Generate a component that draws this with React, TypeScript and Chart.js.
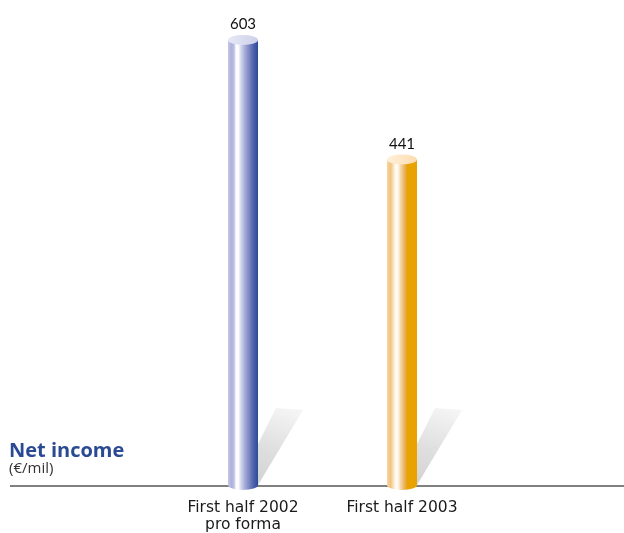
import { useEffect, useRef } from "react";
import { Chart, registerables } from "chart.js";

Chart.register(...registerables);

// Net income, € million
const categories = [["First half 2002", "pro forma"], ["First half 2003"]];
const netIncome = [603, 441];

const bodyStops = [
  [
    [0, "#c3c6e6"],
    [0.12, "#adb2db"],
    [0.2, "#bcc0e3"],
    [0.27, "#ffffff"],
    [0.35, "#fbfbfe"],
    [0.43, "#d3d6ee"],
    [0.55, "#aab0da"],
    [0.7, "#7d88c3"],
    [0.85, "#4d62aa"],
    [1, "#2b4b9b"],
  ],
  [
    [0, "#f6d6a3"],
    [0.12, "#f1c37e"],
    [0.22, "#fbe5c2"],
    [0.3, "#ffffff"],
    [0.37, "#fff6e8"],
    [0.46, "#f5d5a0"],
    [0.58, "#eab263"],
    [0.66, "#e7a518"],
    [0.68, "#e8a300"],
    [1, "#e8a300"],
  ],
];
const capStops = [
  ["#e6e8f5", "#cdd1ea"],
  ["#fff0da", "#fcdcb0"],
];

const cylinderPlugin = {
  id: "cylinders",
  beforeDatasetsDraw(chart: any) {
    const ctx: CanvasRenderingContext2D = chart.ctx;
    const meta = chart.getDatasetMeta(0);
    const base = chart.scales.y.getPixelForValue(0);
    const ry = 5;

    // cast shadows behind each column, falling up and to the right
    meta.data.forEach((bar: any) => {
      const { x, width } = bar.getProps(["x", "width"], true);
      const r = x + width / 2;
      ctx.save();
      const g = ctx.createLinearGradient(r, base, r + 24, base - 77);
      g.addColorStop(0, "#d2d2d2");
      g.addColorStop(0.5, "#e0e0e0");
      g.addColorStop(1, "#f4f4f4");
      ctx.fillStyle = g;
      ctx.beginPath();
      ctx.moveTo(r, base);
      ctx.lineTo(r, base - 41);
      ctx.lineTo(r + 18, base - 77);
      ctx.lineTo(r + 45, base - 75);
      ctx.closePath();
      ctx.fill();
      ctx.restore();
    });

    // baseline
    ctx.save();
    ctx.fillStyle = "#808080";
    ctx.fillRect(10, base, chart.width - 10, 2);
    ctx.restore();

    meta.data.forEach((bar: any, i: number) => {
      const { x, y, width } = bar.getProps(["x", "y", "width"], true);
      const rx = width / 2;
      const left = x - rx;
      const right = x + rx;
      ctx.save();
      const g = ctx.createLinearGradient(left, 0, right, 0);
      bodyStops[i].forEach(([o, c]) => g.addColorStop(o as number, c as string));
      ctx.fillStyle = g;
      ctx.beginPath();
      ctx.moveTo(left, y);
      ctx.lineTo(left, base);
      ctx.ellipse(x, base, rx, ry, 0, Math.PI, 0, true);
      ctx.lineTo(right, y);
      ctx.closePath();
      ctx.fill();

      const cg = ctx.createLinearGradient(left, y, right, y);
      cg.addColorStop(0, capStops[i][0]);
      cg.addColorStop(1, capStops[i][1]);
      ctx.fillStyle = cg;
      ctx.beginPath();
      ctx.ellipse(x, y, rx, ry, 0, 0, Math.PI * 2);
      ctx.fill();

      ctx.fillStyle = "#111111";
      ctx.font = "15px Lato";
      ctx.textAlign = "center";
      ctx.textBaseline = "alphabetic";
      ctx.fillText(String(netIncome[i]), x, y - 11);
      ctx.restore();
    });

    // title block
    ctx.save();
    ctx.textAlign = "left";
    ctx.textBaseline = "alphabetic";
    ctx.fillStyle = "#2b4a94";
    ctx.font = "bold 20px 'Open Sans'";
    ctx.fillText("Net income", 9, 457);
    ctx.fillStyle = "#333333";
    ctx.font = "15px 'Open Sans'";
    ctx.fillText("(€/mil)", 9, 473);
    ctx.restore();
  },
};

export default function App() {
  const ref = useRef<HTMLCanvasElement | null>(null);

  useEffect(() => {
    if (!ref.current) return;
    const chart = new Chart(ref.current, {
      type: "bar",
      data: {
        labels: categories,
        datasets: [
          {
            data: netIncome,
            backgroundColor: "rgba(0,0,0,0)",
            borderWidth: 0,
            barThickness: 30,
          },
        ],
      },
      options: {
        responsive: false,
        animation: false,
        devicePixelRatio: 1,
        layout: { padding: { top: 20, left: 163.5, right: 142.5, bottom: 0 } },
        plugins: {
          legend: { display: false },
          tooltip: { enabled: false },
        },
        scales: {
          x: {
            grid: { display: false, drawTicks: false },
            border: { display: false },
            afterFit: (scale: any) => {
              scale.height = 48;
            },
            ticks: {
              padding: 14,
              color: "#1a1a1a",
              font: { family: "DejaVu Sans", size: 15.5, lineHeight: 1.1 },
            },
          },
          y: {
            display: false,
            min: 0,
            max: 630,
          },
        },
      },
      plugins: [cylinderPlugin],
    });
    return () => chart.destroy();
  }, []);

  return (
    <div style={{ position: "absolute", left: 0, top: 0, width: 624, height: 533, background: "#ffffff" }}>
      <canvas ref={ref} width={624} height={533} />
    </div>
  );
}
